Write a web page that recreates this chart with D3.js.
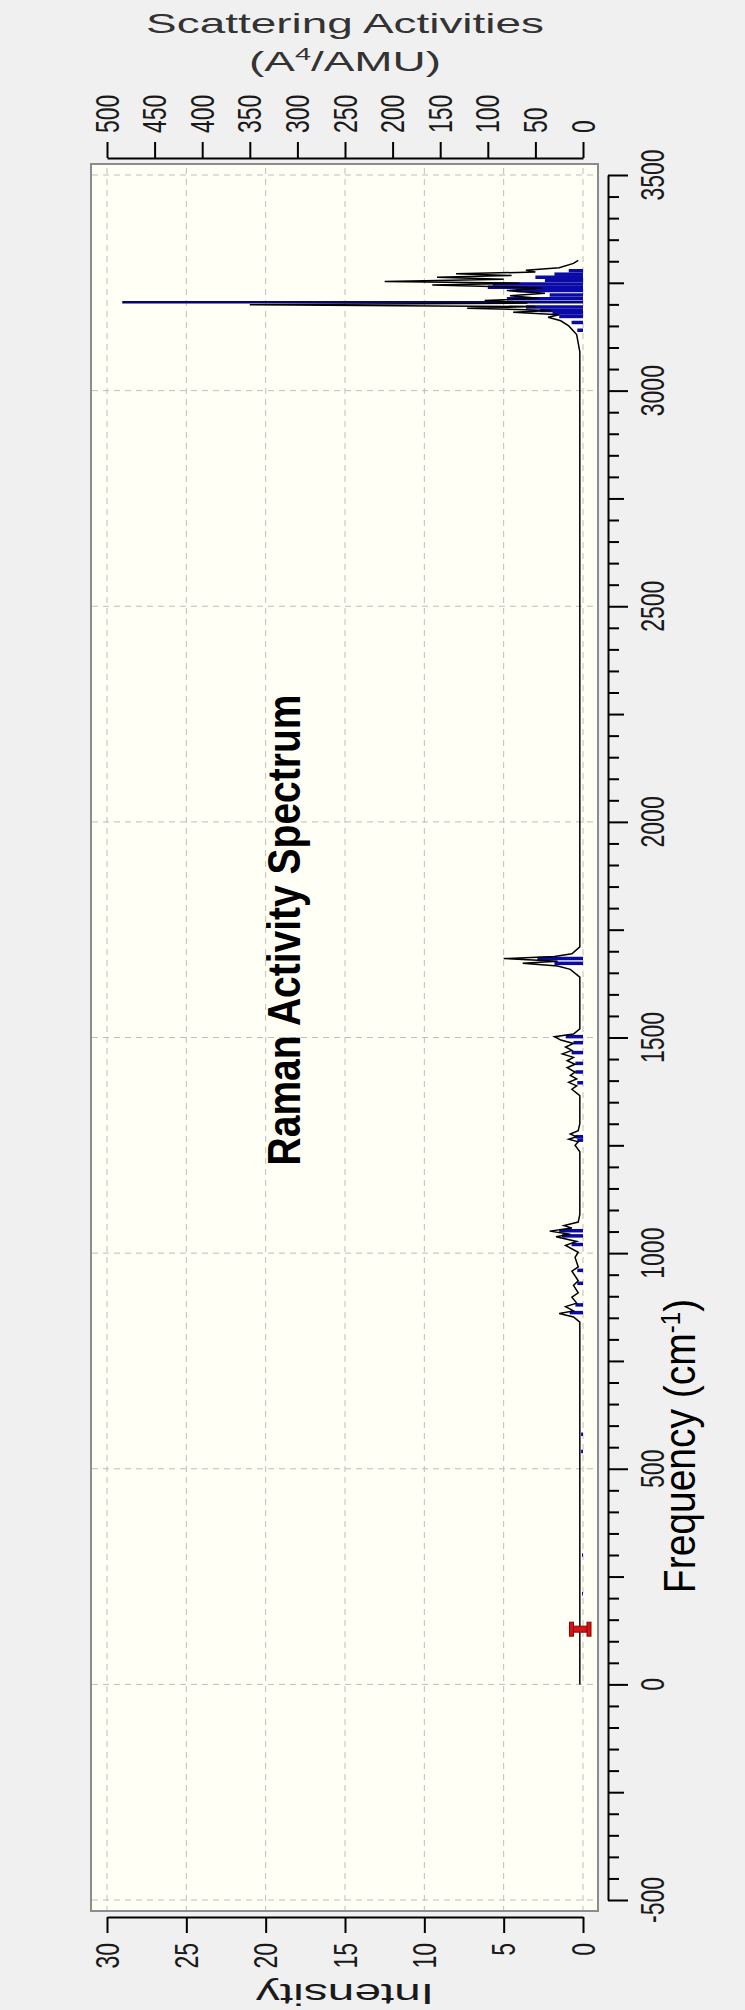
<!DOCTYPE html>
<html>
<head>
<meta charset="utf-8">
<script src="https://cdn.jsdelivr.net/npm/d3@7"></script>
<style>
  body { margin: 0; background: #f0f0f0; }
  svg { display: block; font-family: "Liberation Sans", Arial, sans-serif; }
</style>
</head>
<body>
<svg id="raman" width="745" height="2010"></svg>
<script>
// tick labels
const intensityTicks = [0, 5, 10, 15, 20, 25, 30];
const activityTicks = [0, 50, 100, 150, 200, 250, 300, 350, 400, 450, 500];
const freqLabels = [-500, 0, 500, 1000, 1500, 2000, 2500, 3000, 3500];

// broadened spectrum, [frequency cm-1, intensity]
const spectrum = [
  [0, 0.2], [840, 0.2], [852, 0.6], [860, 1.5], [866, 0.6], [876, 1.1], [884, 0.4],
  [898, 0.7], [908, 0.3], [925, 0.6], [936, 0.3], [958, 0.7], [968, 0.3], [990, 0.5],
  [1002, 0.3], [1018, 1.1], [1027, 0.4], [1038, 1.7], [1044, 0.8], [1051, 2.1], [1058, 0.7],
  [1064, 1.2], [1072, 0.3], [1090, 0.2],
  [1235, 0.2], [1250, 0.5], [1258, 0.3], [1264, 0.9], [1270, 0.4], [1276, 0.8], [1284, 0.3], [1300, 0.2],
  [1365, 0.2], [1380, 0.7], [1388, 0.4], [1396, 0.9], [1404, 0.4], [1412, 0.8], [1420, 0.5],
  [1430, 1.0], [1438, 0.5], [1446, 1.0], [1454, 0.6], [1462, 1.3], [1470, 0.7], [1478, 1.1],
  [1486, 0.6], [1494, 1.4], [1502, 1.8], [1508, 0.6], [1520, 0.2],
  [1640, 0.2], [1658, 0.8], [1666, 1.6], [1672, 3.8], [1677, 1.6], [1683, 5.0], [1688, 1.8],
  [1694, 0.7], [1710, 0.2],
  [3090, 0.2], [3130, 0.4], [3150, 0.9], [3162, 1.4], [3170, 2.2], [3176, 1.5], [3182, 4.4],
  [3186, 2.0], [3191, 7.3], [3195, 3.0], [3199, 21], [3203, 3.5], [3209, 6.2], [3214, 2.8],
  [3220, 4.6], [3226, 2.4], [3232, 4.8], [3238, 2.6], [3245, 9.5], [3249, 4.0], [3253, 12.5],
  [3258, 5.0], [3263, 9.2], [3267, 4.5], [3271, 8.0], [3275, 3.0], [3279, 3.6], [3285, 1.5],
  [3295, 0.6], [3302, 0.3]
];

// scattering activities, [frequency cm-1, A^4/AMU]
const sticks = [
  [210, 1], [300, 1], [540, 2], [580, 2], [862, 14], [880, 8], [930, 6], [960, 6],
  [1020, 12], [1040, 22], [1052, 25], [1262, 6], [1270, 8], [1395, 6], [1420, 8],
  [1440, 8], [1465, 12], [1488, 10], [1502, 18], [1672, 30], [1683, 48],
  [3140, 6], [3158, 12], [3172, 25], [3180, 32], [3186, 45], [3194, 60], [3205, 484],
  [3213, 80], [3222, 35], [3232, 70], [3240, 100], [3247, 95], [3256, 40], [3263, 50],
  [3270, 30], [3278, 15]
];

// selected mode (red marker)
const selectedMode = [128, 10];

document.addEventListener("DOMContentLoaded", () => {
    const svg = d3.select("#raman");

    const box = { left: 91, right: 598, top: 164, bottom: 1911 };

    const xInt = d3.scaleLinear().domain([0, 30]).range([583, 107]);
    const xAct = d3.scaleLinear().domain([0, 500]).range([583, 107]);
    const yFreq = d3.scaleLinear().domain([-500, 3500]).range([1900, 175]);

    // plot area
    svg.append("rect")
        .attr("x", box.left)
        .attr("y", box.top)
        .attr("width", box.right - box.left)
        .attr("height", box.bottom - box.top)
        .attr("fill", "#fffff6")
        .attr("stroke", "#8c8c8c")
        .attr("stroke-width", 2);

    // dashed grid
    const grid = svg.append("g")
        .attr("stroke", "#bdbdbd")
        .attr("stroke-width", 1)
        .attr("stroke-dasharray", "6,5");
    grid.selectAll(".vgrid")
        .data(intensityTicks)
        .enter()
        .append("line")
        .attr("x1", d => xInt(d))
        .attr("x2", d => xInt(d))
        .attr("y1", box.top + 4)
        .attr("y2", box.bottom - 1);
    grid.selectAll(".hgrid")
        .data(freqLabels)
        .enter()
        .append("line")
        .attr("x1", box.left + 1)
        .attr("x2", box.right - 1)
        .attr("y1", d => yFreq(d))
        .attr("y2", d => yFreq(d));

    // sticks
    svg.append("g")
        .selectAll("line")
        .data(sticks)
        .enter()
        .append("line")
        .attr("x1", xAct(0))
        .attr("x2", d => xAct(d[1]))
        .attr("y1", d => yFreq(d[0]))
        .attr("y2", d => yFreq(d[0]))
        .attr("stroke", d => d[1] > 200 ? "#06066e" : "#0a0aa6")
        .attr("stroke-width", d => d[1] > 200 ? 2.5 : 3.5);

    // spectrum line
    const line = d3.line()
        .x(d => xInt(d[1]))
        .y(d => yFreq(d[0]));
    svg.append("path")
        .datum(spectrum)
        .attr("d", line)
        .attr("fill", "none")
        .attr("stroke", "#000")
        .attr("stroke-width", 1.5);

    // selected mode marker
    const sy = yFreq(selectedMode[0]);
    const sx0 = xAct(0) + 6;
    const sx1 = xAct(selectedMode[1]) - 2;
    const marker = svg.append("g").attr("fill", "#d41414").attr("stroke", "#8a0000").attr("stroke-width", 1);
    marker.append("rect").attr("x", sx1).attr("y", sy - 3).attr("width", sx0 - sx1).attr("height", 6);
    marker.append("rect").attr("x", sx1 - 2).attr("y", sy - 7).attr("width", 4).attr("height", 14);
    marker.append("rect").attr("x", sx0 - 2).attr("y", sy - 7).attr("width", 4).attr("height", 14);

    // axes
    const axisStyle = g => {
        g.select(".domain").attr("stroke", "#000").attr("stroke-width", 2);
        g.selectAll(".tick line").attr("stroke", "#000").attr("stroke-width", 2);
    };

    svg.append("g")
        .attr("transform", "translate(0,1917)")
        .call(d3.axisBottom(xInt).tickValues(intensityTicks).tickSize(16).tickSizeOuter(0).tickFormat(""))
        .call(axisStyle);

    svg.append("g")
        .attr("transform", "translate(0,158)")
        .call(d3.axisTop(xAct).tickValues(activityTicks).tickSize(16).tickSizeOuter(0).tickFormat(""))
        .call(axisStyle);

    const freqTicks = d3.range(-500, 3501, 50);
    svg.append("g")
        .attr("transform", "translate(608,0)")
        .call(d3.axisRight(yFreq).tickValues(freqTicks).tickSizeOuter(0).tickFormat(""))
        .call(axisStyle)
        .selectAll(".tick line")
        .attr("x2", d => d % 500 === 0 ? 20 : (d % 250 === 0 ? 16 : 11));

    // rotated text helper (reads bottom to top)
    const rotText = (x, y, txt, fs, anchor, sRead, sHigh) => svg.append("text")
        .attr("transform", `translate(${x},${y}) rotate(-90) scale(${sRead},${sHigh})`)
        .attr("text-anchor", anchor)
        .style("font-size", fs + "px")
        .style("fill", "#1a1a1a")
        .text(txt);

    intensityTicks.forEach(v => rotText(xInt(v), 1943, v, 23, "end", 1, 1.45).attr("dy", "0.35em"));
    activityTicks.forEach(v => rotText(xAct(v), 133, v, 23, "start", 1, 1.45).attr("dy", "0.35em"));
    freqLabels.forEach(v => rotText(652, yFreq(v), v, 23, "middle", 1, 1.45).attr("dy", "0.35em"));

    // titles
    rotText(300, 930, "Raman Activity Spectrum", 39, "middle", 1, 1.2)
        .style("font-weight", "bold")
        .style("fill", "#000");

    const freqTitle = rotText(695, 1446, "Frequency (cm", 39, "middle", 1, 1.15).style("fill", "#000");
    freqTitle.append("tspan").attr("dy", -13).style("font-size", "24px").text("-1");
    freqTitle.append("tspan").attr("dy", 13).text(")");

    svg.append("text")
        .attr("transform", "translate(345,33) scale(1.7,1)")
        .attr("text-anchor", "middle")
        .style("font-size", "27px")
        .style("fill", "#333")
        .text("Scattering Activities");

    const unit = svg.append("text")
        .attr("transform", "translate(345,71) scale(1.7,1)")
        .attr("text-anchor", "middle")
        .style("font-size", "27px")
        .style("fill", "#333")
        .text("(A");
    unit.append("tspan").attr("dy", -11).style("font-size", "17px").text("4");
    unit.append("tspan").attr("dy", 11).text("/AMU)");

    svg.append("text")
        .attr("transform", "translate(345,1984) rotate(180) scale(1.65,1)")
        .attr("text-anchor", "middle")
        .style("font-size", "29px")
        .style("fill", "#1a1a1a")
        .text("Intensity");
});
</script>
</body>
</html>
